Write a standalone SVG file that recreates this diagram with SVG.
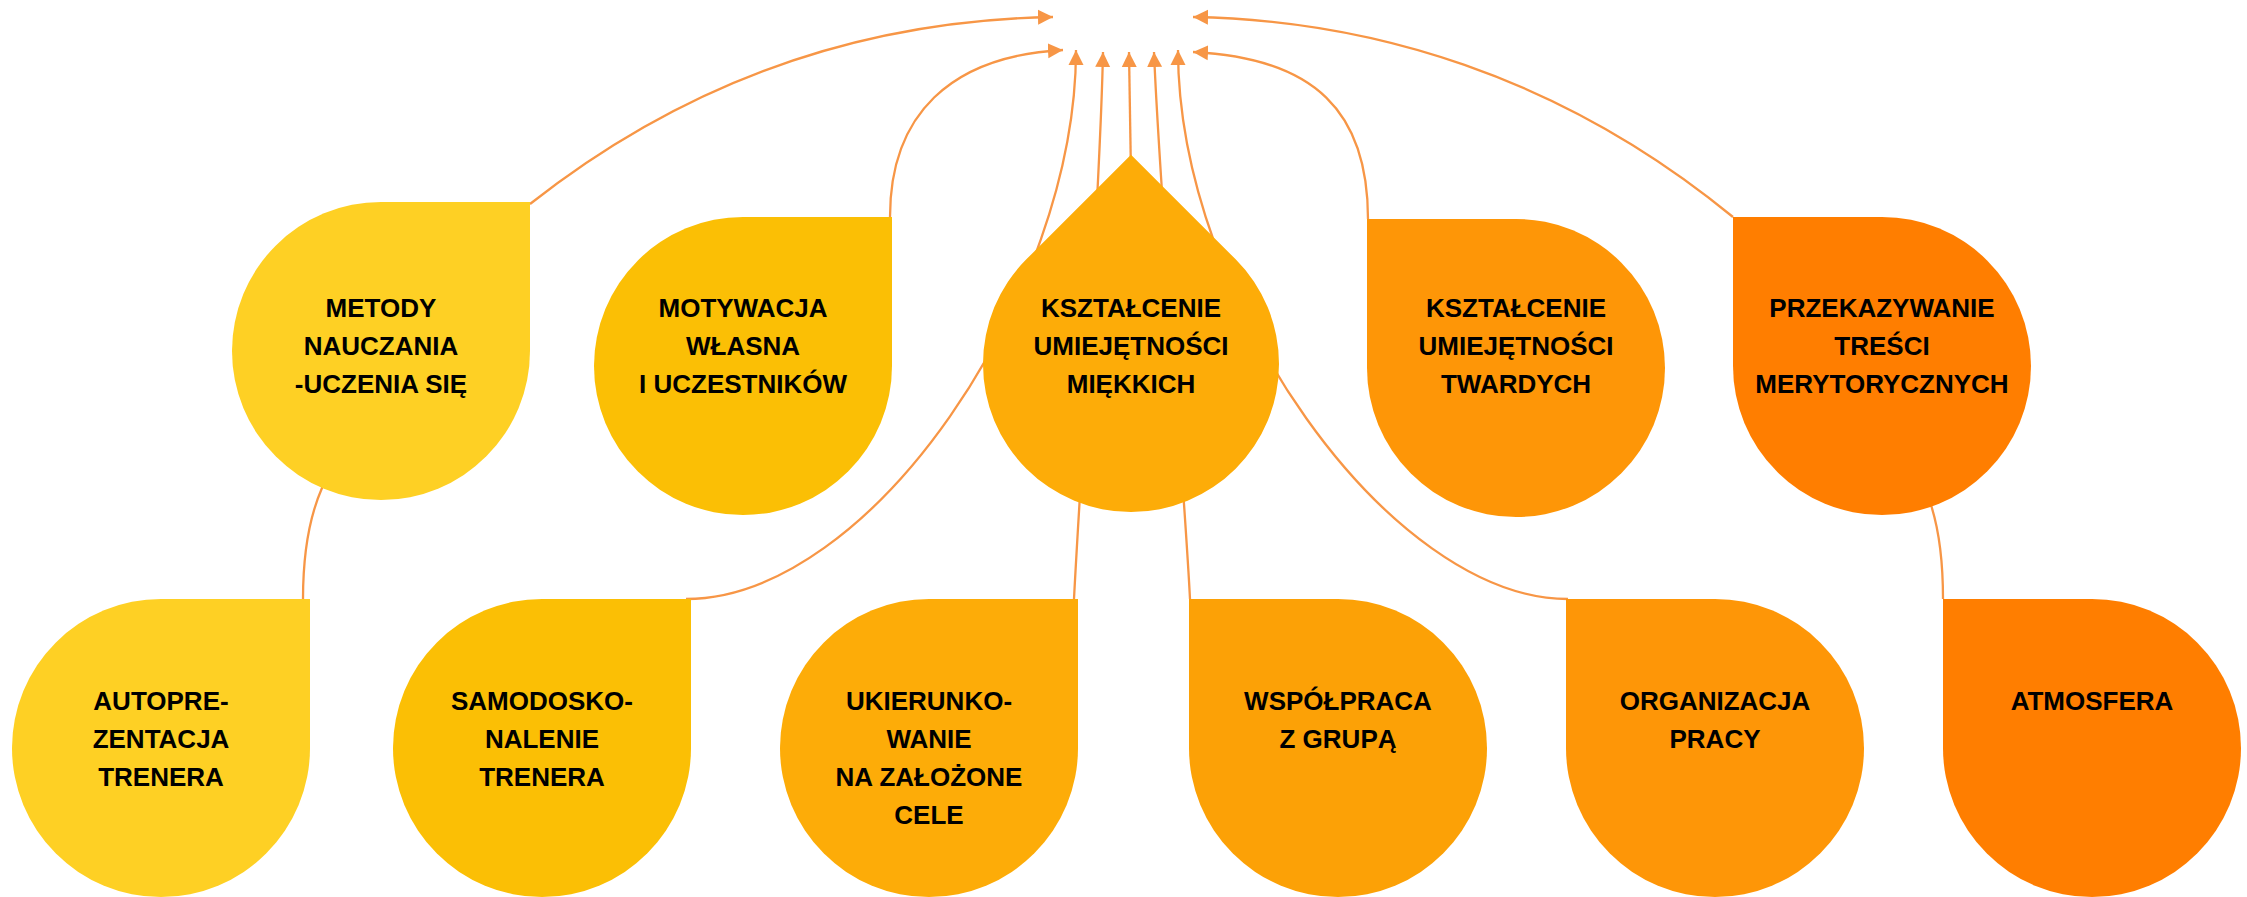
<svg xmlns="http://www.w3.org/2000/svg" width="2247" height="897" viewBox="0 0 2247 897">
<style>
.c{fill:none;stroke:#F79646;stroke-width:2.3}
.a{marker-end:url(#ah)}
.t{font-family:"Liberation Sans",Arial,sans-serif;font-weight:bold;font-size:26px;fill:#000;text-anchor:middle}
.y1{fill:#FED024}.y2{fill:#FBBF05}.y3{fill:#FDAC08}.y4{fill:#FCA106}.y5{fill:#FE9607}.y6{fill:#FF7E00}
</style>
<defs>
<marker id="ah" markerUnits="userSpaceOnUse" markerWidth="16" markerHeight="16" refX="15" refY="8" orient="auto">
<path d="M0,0.5 L15,8 L0,15.5 Z" fill="#F79646"/>
</marker>
</defs>
<rect width="2247" height="897" fill="#fff"/>
<g id="connectors">
<path class="c a" d="M530,204 C700,70 880,20 1053,17"/>
<path class="c a" d="M890,217 C890,115 950,56 1063,50"/>
<path class="c a" d="M1368,219 C1368,112 1315,58 1193,52"/>
<path class="c a" d="M1733,217 C1560,75 1370,20 1193,17"/>
<path class="c" d="M303,599 C303,560 308,520 322,488 C328,470 334,455 340,440"/>
<path class="c a" d="M686,599 C870,599 1076,295 1076,50"/>
<path class="c a" d="M1074,599 C1080,480 1100,200 1103,52"/>
<path class="c a" d="M1131,176 L1129,52"/>
<path class="c a" d="M1190,599 C1184,480 1160,200 1154,52"/>
<path class="c a" d="M1568,599 C1390,599 1178,300 1178,50"/>
<path class="c" d="M1943,599 C1943,560 1939,530 1931,505 C1928,495 1925,485 1922,475"/>
</g>
<g id="n-metody">
<path class="y1" d="M381,202 L530,202 L530,351 A149,149 0 0 1 381,500 A149,149 0 0 1 232,351 A149,149 0 0 1 381,202 Z"/>
<text class="t" x="381" y="317">METODY</text>
<text class="t" x="381" y="355">NAUCZANIA</text>
<text class="t" x="381" y="393">-UCZENIA SIĘ</text>
</g>
<g id="n-motywacja">
<path class="y2" d="M743,217 L892,217 L892,366 A149,149 0 0 1 743,515 A149,149 0 0 1 594,366 A149,149 0 0 1 743,217 Z"/>
<text class="t" x="743" y="317">MOTYWACJA</text>
<text class="t" x="743" y="355">WŁASNA</text>
<text class="t" x="743" y="393">I UCZESTNIKÓW</text>
</g>
<g id="n-miekkie">
<path class="y3" d="M1131,154.7 L1235.65,259.35 A148,148 0 1 1 1026.35,259.35 Z"/>
<text class="t" x="1131" y="317">KSZTAŁCENIE</text>
<text class="t" x="1131" y="355">UMIEJĘTNOŚCI</text>
<text class="t" x="1131" y="393">MIĘKKICH</text>
</g>
<g id="n-twarde">
<path class="y5" d="M1367,219 L1516,219 A149,149 0 0 1 1665,368 A149,149 0 0 1 1516,517 A149,149 0 0 1 1367,368 Z"/>
<text class="t" x="1516" y="317">KSZTAŁCENIE</text>
<text class="t" x="1516" y="355">UMIEJĘTNOŚCI</text>
<text class="t" x="1516" y="393">TWARDYCH</text>
</g>
<g id="n-przekazywanie">
<path class="y6" d="M1733,217 L1882,217 A149,149 0 0 1 2031,366 A149,149 0 0 1 1882,515 A149,149 0 0 1 1733,366 Z"/>
<text class="t" x="1882" y="317">PRZEKAZYWANIE</text>
<text class="t" x="1882" y="355">TREŚCI</text>
<text class="t" x="1882" y="393">MERYTORYCZNYCH</text>
</g>
<g id="n-autoprezentacja">
<path class="y1" d="M161,599 L310,599 L310,748 A149,149 0 0 1 161,897 A149,149 0 0 1 12,748 A149,149 0 0 1 161,599 Z"/>
<text class="t" x="161" y="710">AUTOPRE-</text>
<text class="t" x="161" y="748">ZENTACJA</text>
<text class="t" x="161" y="786">TRENERA</text>
</g>
<g id="n-samodoskonalenie">
<path class="y2" d="M542,599 L691,599 L691,748 A149,149 0 0 1 542,897 A149,149 0 0 1 393,748 A149,149 0 0 1 542,599 Z"/>
<text class="t" x="542" y="710">SAMODOSKO-</text>
<text class="t" x="542" y="748">NALENIE</text>
<text class="t" x="542" y="786">TRENERA</text>
</g>
<g id="n-ukierunkowanie">
<path class="y3" d="M929,599 L1078,599 L1078,748 A149,149 0 0 1 929,897 A149,149 0 0 1 780,748 A149,149 0 0 1 929,599 Z"/>
<text class="t" x="929" y="710">UKIERUNKO-</text>
<text class="t" x="929" y="748">WANIE</text>
<text class="t" x="929" y="786">NA ZAŁOŻONE</text>
<text class="t" x="929" y="824">CELE</text>
</g>
<g id="n-wspolpraca">
<path class="y4" d="M1189,599 L1338,599 A149,149 0 0 1 1487,748 A149,149 0 0 1 1338,897 A149,149 0 0 1 1189,748 Z"/>
<text class="t" x="1338" y="710">WSPÓŁPRACA</text>
<text class="t" x="1338" y="748">Z GRUPĄ</text>
</g>
<g id="n-organizacja">
<path class="y5" d="M1566,599 L1715,599 A149,149 0 0 1 1864,748 A149,149 0 0 1 1715,897 A149,149 0 0 1 1566,748 Z"/>
<text class="t" x="1715" y="710">ORGANIZACJA</text>
<text class="t" x="1715" y="748">PRACY</text>
</g>
<g id="n-atmosfera">
<path class="y6" d="M1943,599 L2092,599 A149,149 0 0 1 2241,748 A149,149 0 0 1 2092,897 A149,149 0 0 1 1943,748 Z"/>
<text class="t" x="2092" y="710">ATMOSFERA</text>
</g>
</svg>
